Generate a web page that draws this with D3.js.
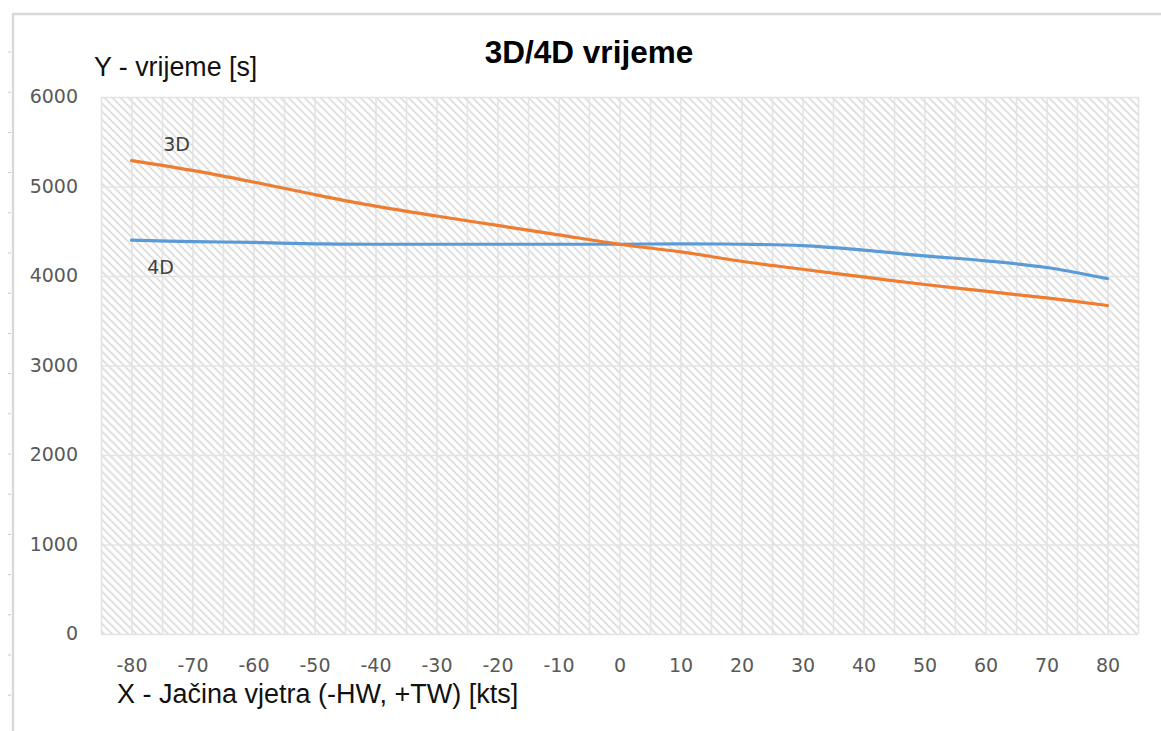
<!DOCTYPE html>
<html>
<head>
<meta charset="utf-8">
<script src="https://cdn.jsdelivr.net/npm/d3@7"></script>
<style>
  html, body { margin: 0; padding: 0; background: #fff; }
  svg { display: block; }
</style>
</head>
<body>
<script>
// ---- data ----
const windKts = [-80, -70, -60, -50, -40, -30, -20, -10, 0, 10, 20, 30, 40, 50, 60, 70, 80];
const time3D = [5290, 5180, 5050, 4910, 4780, 4670, 4565, 4460, 4355, 4270, 4165, 4075, 3990, 3905, 3830, 3755, 3670];
const time4D = [4400, 4385, 4375, 4360, 4355, 4355, 4355, 4355, 4355, 4360, 4355, 4340, 4290, 4225, 4170, 4095, 3970];
const yTicks = [0, 1000, 2000, 3000, 4000, 5000, 6000];
const xTicks = [-80, -70, -60, -50, -40, -30, -20, -10, 0, 10, 20, 30, 40, 50, 60, 70, 80];
const titleText = "3D/4D vrijeme";
const yTitle = "Y - vrijeme [s]";
const xTitle = "X - Jačina vjetra (-HW, +TW) [kts]";
const seriesNames = ["3D", "4D"];

const W = 1161, H = 731;
const plot = { left: 101, right: 1138, top: 97, bottom: 634 };

const svg = d3.select("body").append("svg").attr("width", W).attr("height", H);

// hatch pattern
const defs = svg.append("defs");
const pat = defs.append("pattern")
  .attr("id", "hatch").attr("patternUnits", "userSpaceOnUse")
  .attr("width", 5.66).attr("height", 5.66)
  .attr("patternTransform", "rotate(45)");
pat.append("rect").attr("width", 5.66).attr("height", 5.66).attr("fill", "#fff");
pat.append("rect").attr("x", 0).attr("y", 0).attr("width", 5.66).attr("height", 2).attr("fill", "#e0e0e0");

// chart frame (top and left) with small ruler ticks
svg.append("line").attr("x1", 12).attr("x2", W).attr("y1", 14).attr("y2", 14)
  .attr("stroke", "#d9d9d9").attr("stroke-width", 2.5);
svg.append("line").attr("x1", 13).attr("x2", 13).attr("y1", 13).attr("y2", H)
  .attr("stroke", "#d9d9d9").attr("stroke-width", 2.5);
svg.append("g").selectAll("line").data(d3.range(52, H, 40.2)).join("line")
  .attr("x1", 8).attr("x2", 11).attr("y1", d => d).attr("y2", d => d)
  .attr("stroke", "#c8c8c8").attr("stroke-width", 1);

const x = d3.scaleLinear().domain([-85, 85]).range([plot.left, plot.right]);
const y = d3.scaleLinear().domain([0, 6000]).range([plot.bottom, plot.top]);
const fmt = d => String(d);

// plot area hatch
svg.append("rect")
  .attr("x", x(-85)).attr("y", y(6000))
  .attr("width", x(85) - x(-85)).attr("height", y(0) - y(6000))
  .attr("fill", "url(#hatch)");

// gridlines
const gridX = d3.axisBottom(x).tickValues(d3.range(-85, 86, 5))
  .tickSize(-(plot.bottom - plot.top)).tickFormat("");
svg.append("g").attr("transform", `translate(0,${plot.bottom})`).call(gridX)
  .call(g => g.select(".domain").remove())
  .call(g => g.selectAll("line").attr("stroke", "#e3e3e3").attr("stroke-width", 1.6));
const gridY = d3.axisLeft(y).tickValues(yTicks)
  .tickSize(-(plot.right - plot.left)).tickFormat("");
svg.append("g").attr("transform", `translate(${plot.left},0)`).call(gridY)
  .call(g => g.select(".domain").remove())
  .call(g => g.selectAll("line").attr("stroke", "#e3e3e3").attr("stroke-width", 1.6));

// axes labels
const yAxis = d3.axisLeft(y).tickValues(yTicks).tickSize(0).tickPadding(0).tickFormat(fmt);
svg.append("g").attr("transform", `translate(78,0)`).call(yAxis)
  .call(g => g.select(".domain").remove())
  .call(g => g.selectAll("text").attr("font-family", "DejaVu Sans").attr("font-size", 19)
    .attr("fill", "#595959").attr("dy", "0.3em"));
const xAxis = d3.axisBottom(x).tickValues(xTicks).tickSize(0).tickPadding(0).tickFormat(fmt);
svg.append("g").attr("transform", `translate(0,672)`).call(xAxis)
  .call(g => g.select(".domain").remove())
  .call(g => g.selectAll("text").attr("font-family", "DejaVu Sans").attr("font-size", 19)
    .attr("fill", "#595959").attr("dy", 0));

// lines
const rows = windKts.map((k, i) => ({ k, a: time3D[i], b: time4D[i] }));
const line3 = d3.line().x(d => x(d.k)).y(d => y(d.a)).curve(d3.curveCatmullRom.alpha(0.5));
const line4 = d3.line().x(d => x(d.k)).y(d => y(d.b)).curve(d3.curveCatmullRom.alpha(0.5));
svg.append("path").datum(rows).attr("d", line4).attr("fill", "none")
  .attr("stroke", "#5b9bd5").attr("stroke-width", 3.2).attr("stroke-linecap", "round");
svg.append("path").datum(rows).attr("d", line3).attr("fill", "none")
  .attr("stroke", "#ed7d31").attr("stroke-width", 3.2).attr("stroke-linecap", "round");

// series labels
svg.append("text").attr("x", x(windKts[0]) + 45).attr("y", y(time3D[0]) - 10)
  .attr("text-anchor", "middle").attr("font-family", "DejaVu Sans").attr("font-size", 19)
  .attr("fill", "#404040").text(seriesNames[0]);
svg.append("text").attr("x", x(windKts[0]) + 29).attr("y", y(time4D[0]) + 34)
  .attr("text-anchor", "middle").attr("font-family", "DejaVu Sans").attr("font-size", 19)
  .attr("fill", "#404040").text(seriesNames[1]);

// titles
svg.append("text").attr("x", 589).attr("y", 63).attr("text-anchor", "middle")
  .attr("font-family", "Liberation Sans, Arial, sans-serif").attr("font-weight", "bold")
  .attr("font-size", 31.5).attr("fill", "#000").text(titleText);
svg.append("text").attr("x", 94).attr("y", 76)
  .attr("font-family", "Liberation Sans, Arial, sans-serif")
  .attr("font-size", 26.8).attr("fill", "#111").text(yTitle);
svg.append("text").attr("x", 117).attr("y", 703)
  .attr("font-family", "Liberation Sans, Arial, sans-serif")
  .attr("font-size", 27).attr("fill", "#111").text(xTitle);
</script>
</body>
</html>
